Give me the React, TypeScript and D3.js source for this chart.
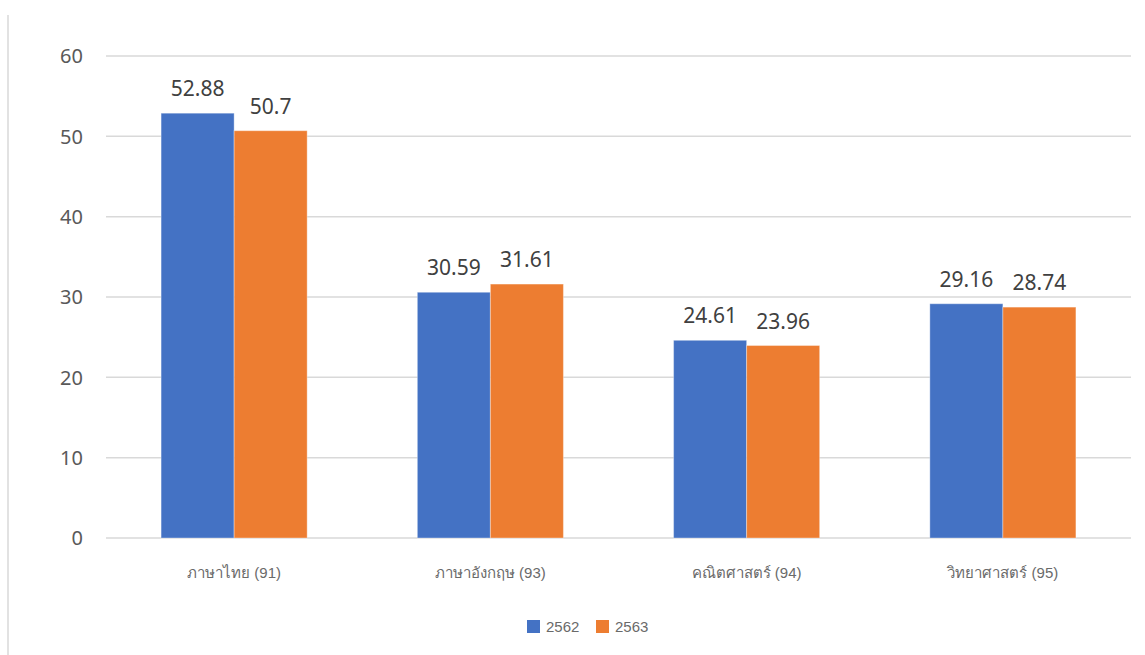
import React from 'react';
import * as d3 from 'd3';

const categories = ['ภาษาไทย (91)', 'ภาษาอังกฤษ (93)', 'คณิตศาสตร์ (94)', 'วิทยาศาสตร์ (95)'];
const seriesNames = ['2562', '2563'];
const values2562 = [52.88, 30.59, 24.61, 29.16];
const values2563 = [50.7, 31.61, 23.96, 28.74];
const yTicks = [0, 10, 20, 30, 40, 50, 60];
const colors = ['#4472C4', '#ED7D31'];

const W = 1145;
const H = 655;
const margin = { left: 106, right: 14, top: 56, bottom: 117 };

const App: React.FC = () => {
  const x = d3
    .scaleBand<string>()
    .domain(categories)
    .range([margin.left, W - margin.right])
    .paddingInner(0.43)
    .paddingOuter(0.215);

  const xSeries = d3.scaleBand<string>().domain(seriesNames).range([0, x.bandwidth()]);

  const y = d3.scaleLinear().domain([0, 60]).range([H - margin.bottom, margin.top]);

  const series = [values2562, values2563];

  const legendX = 527;
  const legendY = 620;

  return (
    <svg
      width={W}
      height={H}
      style={{ position: 'fixed', left: 0, top: 0, background: '#fff' }}
      fontFamily="'Noto Sans', sans-serif"
    >
      {/* frame line on the left */}
      <line x1={8} x2={8} y1={15} y2={H} stroke="#d9d9d9" strokeWidth={1.5} />

      {/* gridlines + y ticks */}
      {yTicks.map((t) => (
        <g key={t}>
          <line
            x1={margin.left}
            x2={W - margin.right}
            y1={y(t)}
            y2={y(t)}
            stroke="#d9d9d9"
            strokeWidth={1.5}
          />
          <text
            x={margin.left - 23}
            y={y(t)}
            dy="0.36em"
            textAnchor="end"
            fontSize={20}
            fill="#595959"
          >
            {t}
          </text>
        </g>
      ))}

      {/* bars */}
      {categories.map((c, i) => (
        <g key={c} transform={`translate(${x(c)},0)`}>
          {seriesNames.map((s, j) => {
            const v = series[j][i];
            const bx = xSeries(s) as number;
            return (
              <g key={s}>
                <rect
                  x={bx}
                  y={y(v)}
                  width={xSeries.bandwidth()}
                  height={y(0) - y(v)}
                  fill={colors[j]}
                  stroke="#ffffff"
                  strokeOpacity={0.35}
                  strokeWidth={1}
                />
                <text
                  x={bx + xSeries.bandwidth() / 2}
                  y={y(v) - 17}
                  textAnchor="middle"
                  fontSize={21}
                  fill="#404040"
                >
                  {v}
                </text>
              </g>
            );
          })}
          <text
            x={x.bandwidth() / 2}
            y={578}
            textAnchor="middle"
            fontSize={15}
            fill="#6a6a6a"
            fontFamily="'Liberation Sans', 'Noto Sans', sans-serif"
          >
            {c}
          </text>
        </g>
      ))}

      {/* legend */}
      {seriesNames.map((s, j) => (
        <g key={s} transform={`translate(${legendX + j * 69},${legendY})`}>
          <rect width={13} height={13} fill={colors[j]} />
          <text
            x={19}
            y={6.5}
            dy="0.36em"
            fontSize={15}
            fill="#6a6a6a"
            fontFamily="'Liberation Sans', sans-serif"
          >
            {s}
          </text>
        </g>
      ))}
    </svg>
  );
};

export default App;
